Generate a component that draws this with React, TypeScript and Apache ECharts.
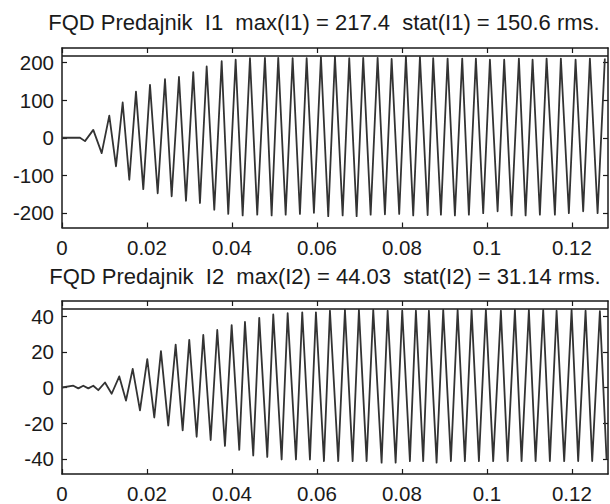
import React, { useEffect, useRef } from "react";
import * as echarts from "echarts";

// ---- Data ----
const TITLE_1 = "FQD Predajnik  I1  max(I1) = 217.4  stat(I1) = 150.6 rms.";
const TITLE_2 = "FQD Predajnik  I2  max(I2) = 44.03  stat(I2) = 31.14 rms.";

const I1_MAX = 217.4;
const I2_MAX = 44.03;

const xTicks = [0, 0.02, 0.04, 0.06, 0.08, 0.1, 0.12];
const y1Ticks = [-200, -100, 0, 100, 200];
const y2Ticks = [-40, -20, 0, 20, 40];

// time (s) of each turning point of I1, and its value
const i1Time = [0, 0.00424, 0.00541, 0.00736, 0.00934, 0.01113, 0.01271, 0.01428, 0.01584, 0.01741,
  0.01913, 0.02071, 0.02252, 0.02424, 0.02581, 0.02753, 0.02918, 0.03089, 0.03247, 0.03405,
  0.03584, 0.03758, 0.03913, 0.04087, 0.04252, 0.04424, 0.04595, 0.04776, 0.04934, 0.05089,
  0.05264, 0.05428, 0.056, 0.05758, 0.05929, 0.06094, 0.06266, 0.06424, 0.06605, 0.0676,
  0.06934, 0.07089, 0.07264, 0.07428, 0.076, 0.07758, 0.07936, 0.08094, 0.08266, 0.08424,
  0.08605, 0.08736, 0.08918, 0.09075, 0.09247, 0.09419, 0.09576, 0.09741, 0.09913, 0.10071,
  0.10252, 0.10407, 0.10581, 0.10753, 0.10911, 0.11075, 0.11247, 0.11405, 0.116, 0.11741,
  0.11929, 0.12087, 0.12266, 0.12424, 0.12605, 0.12776];
const i1Value = [0, 0, -9, 21, -41, 59, -76, 94, -112, 123,
  -137, 141, -148, 156, -156, 162, -168, 175, -174, 190,
  -192, 204, -203, 208, -207, 212, -205, 213, -207, 213,
  -205, 212, -203, 212, -200, 215, -209, 216, -207, 212,
  -209, 213, -205, 213, -204, 210, -203, 216, -207, 215,
  -206, 212, -205, 211, -207, 211, -205, 211, -201, 208,
  -196, 208, -207, 211, -207, 208, -205, 211, -205, 211,
  -201, 208, -196, 211, -201, 211];

// time (s) of each turning point of I2, and its value
const i2Time = [0, 0.00266, 0.00384, 0.00501, 0.00619, 0.00736, 0.00854, 0.01012, 0.01169, 0.01348,
  0.01506, 0.01664, 0.01835, 0.02007, 0.02172, 0.02329, 0.02501, 0.02675, 0.0284, 0.02995,
  0.03169, 0.03325, 0.03499, 0.03654, 0.03835, 0.03993, 0.04172, 0.04306, 0.04501, 0.04642,
  0.04831, 0.04972, 0.05169, 0.05311, 0.05506, 0.05654, 0.05835, 0.05976, 0.06165, 0.06306,
  0.06501, 0.06659, 0.0684, 0.06988, 0.07169, 0.07325, 0.07522, 0.07664, 0.07852, 0.08007,
  0.08188, 0.08329, 0.08501, 0.08635, 0.08816, 0.08972, 0.09153, 0.09311, 0.09482, 0.0964,
  0.09812, 0.09976, 0.10148, 0.10329, 0.10487, 0.10659, 0.10816, 0.10988, 0.11146, 0.11325,
  0.11482, 0.1164, 0.11819, 0.11993, 0.12148, 0.12322, 0.12478, 0.12659, 0.12816];
const i2Value = [0, 1, -0.5, 1, -0.5, 1, -1.5, 2.8, -3.5, 6.2,
  -7.3, 10.4, -12.8, 15.9, -16.8, 20.4, -21.3, 24, -24, 26.7,
  -27.6, 29.4, -29.4, 32.2, -32.7, 34.9, -34.9, 36.7, -38.1, 39,
  -38.9, 40.9, -40.3, 41.6, -40.3, 42.1, -40.3, 42.1, -41.2, 43,
  -41.2, 43.4, -41.2, 43.4, -41.2, 43.4, -42.1, 43, -42.1, 43,
  -41.2, 43, -41.2, 43, -42.1, 43.4, -41.2, 43.4, -41.2, 43.4,
  -41.2, 43.4, -41.2, 43, -41.2, 43.4, -41.2, 43.4, -41.2, 43.4,
  -41.2, 43, -41.2, 43.4, -41.2, 43, -41.2, 42.7, -40.3];

const X_MAX = 0.1285;

// ---- Styling ----
const FONT = "'Liberation Sans', Arial, Helvetica, sans-serif";
const INK = "#1a1a1a";
const W = 610;
const H = 504;

function zip(t: number[], v: number[]) {
  return t.map((x, i) => [x, v[i]]);
}

function fmtX(v: number) {
  const r = Math.round(v * 1000) / 1000;
  return String(r);
}

export default function App() {
  const ref = useRef<HTMLDivElement>(null);

  useEffect(() => {
    if (!ref.current) return;
    const chart = echarts.init(ref.current, undefined, { renderer: "svg" });

    const lineAxis = { show: true, onZero: false, lineStyle: { color: INK, width: 1.5 } };
    const tickIn = (vals: number[]) => ({
      show: true,
      inside: true,
      length: 5,
      customValues: vals,
      lineStyle: { color: INK, width: 1.2 },
    });
    const label = (vals: number[], margin: number, fmt?: (v: number) => string) => ({
      show: true,
      customValues: vals,
      color: INK,
      fontSize: 20.5,
      fontFamily: FONT,
      margin,
      formatter: fmt,
    });

    const y1Lim = 1.1 * I1_MAX;
    const y2Lim = 1.1 * I2_MAX;

    const grids = [
      { left: 62, right: 2, top: 48, height: 179.5 },
      { left: 62, right: 2, top: 301, height: 178.5 },
    ];

    const xAxes: any[] = [];
    const yAxes: any[] = [];
    [0, 1].forEach((g) => {
      xAxes.push({
        type: "value", gridIndex: g, position: "bottom", min: 0, max: X_MAX,
        axisLine: lineAxis, axisTick: tickIn(xTicks), axisLabel: label(xTicks, 9, fmtX),
        splitLine: { show: false },
      });
      xAxes.push({
        type: "value", gridIndex: g, position: "top", min: 0, max: X_MAX,
        axisLine: lineAxis, axisTick: tickIn(xTicks), axisLabel: { show: false },
        splitLine: { show: false },
      });
      const lim = g === 0 ? y1Lim : y2Lim;
      const ticks = g === 0 ? y1Ticks : y2Ticks;
      yAxes.push({
        type: "value", gridIndex: g, position: "left", min: -lim, max: lim,
        axisLine: lineAxis, axisTick: tickIn(ticks), axisLabel: label(ticks, 8),
        splitLine: { show: false },
      });
      yAxes.push({
        type: "value", gridIndex: g, position: "right", min: -lim, max: lim,
        axisLine: lineAxis, axisTick: tickIn(ticks), axisLabel: { show: false },
        splitLine: { show: false },
      });
    });

    const wave = (data: number[][], xi: number, yi: number, maxVal: number) => ({
      type: "line",
      xAxisIndex: xi,
      yAxisIndex: yi,
      data,
      showSymbol: false,
      symbol: "none",
      smooth: false,
      lineStyle: { color: "#333333", width: 1.8, join: "round" },
      silent: true,
      markLine: {
        silent: true,
        symbol: "none",
        label: { show: false },
        lineStyle: { color: INK, width: 1.5, type: "solid" },
        data: [{ yAxis: maxVal }],
      },
    });

    chart.setOption({
      animation: false,
      backgroundColor: "#ffffff",
      grid: grids,
      xAxis: xAxes,
      yAxis: yAxes,
      series: [
        wave(zip(i1Time, i1Value), 0, 0, I1_MAX),
        wave(zip(i2Time, i2Value), 2, 2, I2_MAX),
      ],
      graphic: [
        {
          type: "text", x: 324, y: 22.5, silent: true,
          style: { text: TITLE_1, fill: INK, fontSize: 22, fontFamily: FONT, align: "center", verticalAlign: "middle" },
        },
        {
          type: "text", x: 325, y: 276, silent: true,
          style: { text: TITLE_2, fill: INK, fontSize: 22, fontFamily: FONT, align: "center", verticalAlign: "middle" },
        },
      ],
    });

    return () => chart.dispose();
  }, []);

  return (
    <div
      ref={ref}
      style={{ position: "fixed", left: 0, top: 0, width: W, height: H, background: "#fff" }}
    />
  );
}
